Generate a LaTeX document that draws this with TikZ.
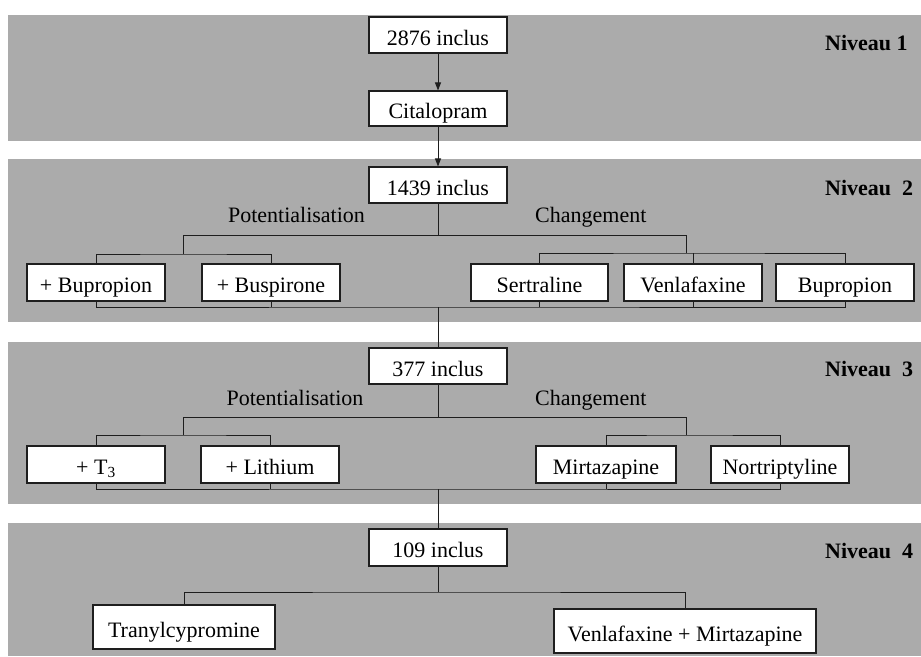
\documentclass[tikz,border=0pt]{standalone}
\usepackage{fontspec}
\setmainfont{Liberation Serif}
\usetikzlibrary{arrows.meta}
\definecolor{bandgray}{RGB}{171,171,171}
\definecolor{inkline}{RGB}{30,30,30}
\begin{document}
\begin{tikzpicture}[x=1pt,y=-1pt,
  band/.style={fill=bandgray,draw=none},
  box/.style={draw=inkline,line width=1.1pt,fill=white,inner sep=0pt,
    text height=24pt,text depth=4pt,font=\fontsize{22}{26}\selectfont,
    minimum width=138pt,minimum height=36pt},
  lbl/.style={font=\fontsize{22}{26}\selectfont,inner sep=0pt},
  lvl/.style={font=\fontsize{22}{26}\selectfont\bfseries,inner sep=0pt,anchor=base west},
  ln/.style={draw=inkline,line width=0.9pt},
  arr/.style={ln,-{Triangle[length=8pt,width=6pt]}}]
\useasboundingbox (0,0) rectangle (921,656);
\fill[white] (0,0) rectangle (921,656);
% bands
\path[band] (8,15) rectangle (921,141);
\path[band] (8,159) rectangle (921,322);
\path[band] (8,342) rectangle (921,504);
\path[band] (8,523) rectangle (921,656);
% level labels
\node[lvl] (lv1) at (825,50) {Niveau 1};
\node[lvl] (lv2) at (825,195) {Niveau\ \ 2};
\node[lvl] (lv3) at (825,376) {Niveau\ \ 3};
\node[lvl] (lv4) at (825,558) {Niveau\ \ 4};
% main boxes
\node[box] (n2876) at (438,35) {2876 inclus};
\node[box,minimum height=35pt] (cit) at (438,108.5) {Citalopram};
\node[box] (n1439) at (438,185) {1439 inclus};
\node[box] (n377) at (438,366) {377 inclus};
\node[box,minimum height=37pt] (n109) at (438,547.5) {109 inclus};
% level 2
\node[lbl,anchor=base] (pot2) at (296.5,222) {Potentialisation};
\node[lbl,anchor=base west] (chg2) at (535,222) {Changement};
\node[box,minimum height=37pt] (bup) at (96,282.5) {+ Bupropion};
\node[box,minimum height=37pt] (busp) at (271,282.5) {+ Buspirone};
\node[box,minimum height=37pt,minimum width=137pt] (sert) at (539.5,282.5) {Sertraline};
\node[box,minimum height=37pt] (venl) at (693,282.5) {Venlafaxine};
\node[box,minimum height=37pt] (bupr) at (845,282.5) {Bupropion};
% level 3
\node[lbl,anchor=base] (pot3) at (295,405) {Potentialisation};
\node[lbl,anchor=base west] (chg3) at (535,405) {Changement};
\node[box,minimum height=37pt] (tthree) at (96,464.5) {+ T\textsubscript{3}};
\node[box,minimum height=37pt] (lith) at (270,464.5) {+ Lithium};
\node[box,minimum height=37pt,minimum width=140pt] (mirt) at (606,464.5) {Mirtazapine};
\node[box,minimum height=37pt] (nort) at (780,464.5) {Nortriptyline};
% level 4
\node[box,minimum height=44pt,minimum width=182pt] (tran) at (184,627) {Tranylcypromine};
\node[box,minimum height=44pt,minimum width=262pt] (vm) at (685,631) {Venlafaxine + Mirtazapine};
% level 1 arrows
\draw[arr] (n2876) -- (cit);
\draw[arr] (cit) -- (n1439);
% level 2 brackets
\coordinate (p2) at (183,235);
\coordinate (c2) at (686,235);
\coordinate (p2s) at (183,254);
\coordinate (c2s) at (686,253);
\coordinate (m2) at (438,307);
\draw[ln] (n1439.south) -- (n1439.south |- p2);
\draw[ln] (p2s) -- (p2) -- (c2) -- (c2s);
\draw[ln] (bup.north) |- (p2s) -| (busp.north);
\draw[ln] (sert.north) |- (c2s) -| (bupr.north);
\draw[ln] (venl.north) -- (venl.north |- c2s);
\draw[ln] (bup.south) |- (m2) -| (bupr.south);
\draw[ln] (busp.south) -- (busp.south |- m2);
\draw[ln] (sert.south) -- (sert.south |- m2);
\draw[ln] (venl.south) -- (venl.south |- m2);
\draw[ln] (m2) -- (n377.north);
% level 3 brackets
\coordinate (p3) at (183,417);
\coordinate (c3) at (686,417);
\coordinate (p3s) at (183,435);
\coordinate (c3s) at (686,435);
\coordinate (m3) at (438,489);
\draw[ln] (n377.south) -- (n377.south |- p3);
\draw[ln] (p3s) -- (p3) -- (c3) -- (c3s);
\draw[ln] (tthree.north) |- (p3s) -| (lith.north);
\draw[ln] (mirt.north) |- (c3s) -| (nort.north);
\draw[ln] (tthree.south) |- (m3) -| (nort.south);
\draw[ln] (lith.south) -- (lith.south |- m3);
\draw[ln] (mirt.south) -- (mirt.south |- m3);
\draw[ln] (m3) -- (n109.north);
% level 4 brackets
\coordinate (j4) at (438,592);
\draw[ln] (n109.south) -- (j4);
\draw[ln] (tran.north) |- (j4) -| (vm.north);
\end{tikzpicture}
\end{document}
